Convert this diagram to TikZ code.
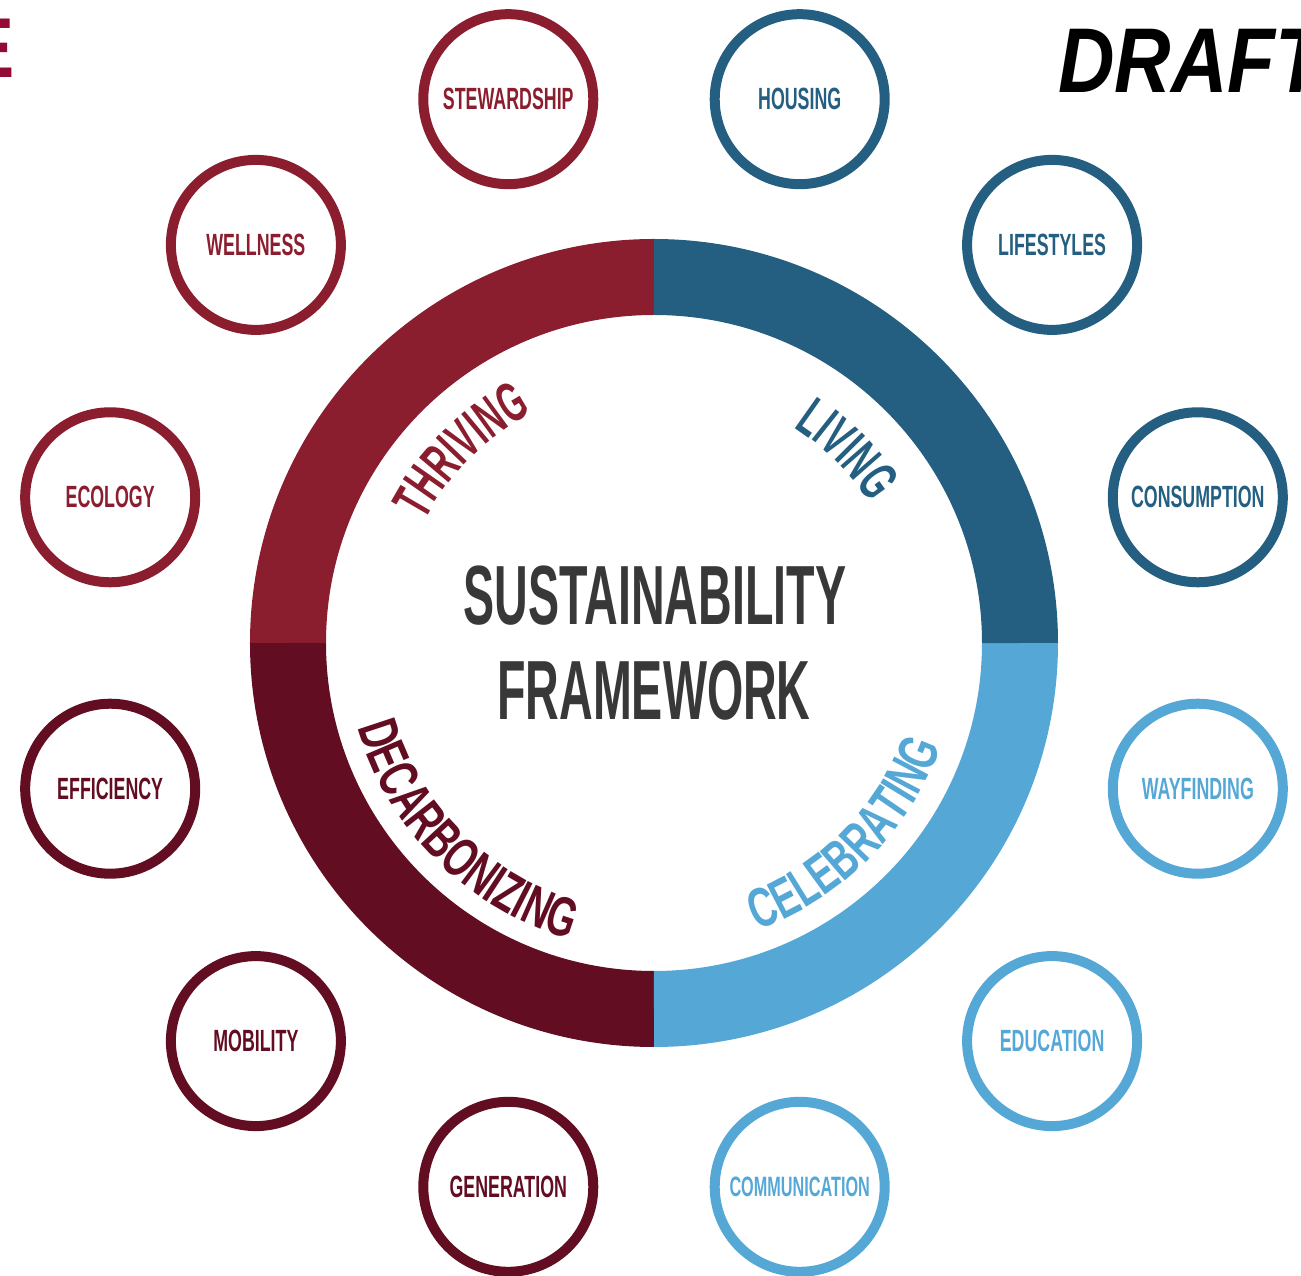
\documentclass[tikz,border=0pt]{standalone}
\usepackage{fontspec}
\usetikzlibrary{decorations.text}
\newfontfamily\condfont[FakeStretch=0.58]{Liberation Sans}
\newfontfamily\widecondfont[FakeStretch=0.665]{Liberation Sans}
\newfontfamily\centfont[FakeStretch=0.555]{Liberation Sans}
\newfontfamily\draftfont[FakeStretch=0.85]{Liberation Sans}
\newfontfamily\plainsans{Liberation Sans}
\newcommand\ringfont{\condfont\bfseries\fontsize{55.9}{56}\selectfont}
\newcommand\ringwidefont{\widecondfont\bfseries\fontsize{55.9}{56}\selectfont}
\definecolor{thrive}{HTML}{8B1E2E}
\definecolor{decarb}{HTML}{620D21}
\definecolor{living}{HTML}{245F82}
\definecolor{celeb}{HTML}{55A8D6}
\definecolor{textgray}{HTML}{383838}
\definecolor{emark}{HTML}{930B35}
\tikzset{
  smallring/.style={circle, draw=#1, line width=10pt, minimum size=170pt, inner sep=0pt,
    text=#1, font=\condfont\bfseries\fontsize{30.7}{32}\selectfont},
  quarter/.style={line width=76pt, draw=#1},
  centertext/.style={font=\centfont\bfseries\fontsize{84}{84}\selectfont, text=textgray,
    anchor=base, inner sep=0pt},
}
\begin{document}
\begin{tikzpicture}[x=1pt,y=1pt]
\useasboundingbox (-654,-633) rectangle (647,643);
\coordinate (c) at (0,0);
% ring
\draw[quarter=thrive] (90:366) arc[start angle=90,end angle=180,radius=366];
\draw[quarter=decarb] (180:366) arc[start angle=180,end angle=270,radius=366];
\draw[quarter=celeb] (270:366) arc[start angle=270,end angle=360,radius=366];
\draw[quarter=living] (0:366) arc[start angle=0,end angle=90,radius=366];
% ring labels
\path[decorate, decoration={text along path, text={|\ringfont|THRIVING}, text align=center, text color=thrive}]
  (180:260) arc[start angle=180,end angle=90,radius=260];
\path[decorate, decoration={text along path, text={|\ringfont|LIVING}, text align=center, text color=living}]
  (90:257) arc[start angle=90,end angle=0,radius=257];
\path[decorate, decoration={text along path, text={|\ringwidefont|DECARBONIZING}, text align=center, text color=decarb}]
  (180:308) arc[start angle=180,end angle=270,radius=308];
\path[decorate, decoration={text along path, text={|\ringwidefont|CELEBRATING}, text align=center, text color=celeb}]
  (270:305) arc[start angle=270,end angle=360,radius=305];
% center
\node[centertext] (t1) at (1,18) {SUSTAINABILITY};
\node[centertext] (t2) at (0,-77) {FRAMEWORK};
% small circles
\node[smallring=thrive] (stew) at (105:563) {STEWARDSHIP};
\node[smallring=thrive] (well) at (135:563) {WELLNESS};
\node[smallring=thrive] (eco) at (165:563) {ECOLOGY};
\node[smallring=decarb] (eff) at (195:563) {EFFICIENCY};
\node[smallring=decarb] (mob) at (225:563) {MOBILITY};
\node[smallring=decarb] (gen) at (255:563) {GENERATION};
\node[smallring=celeb] (comm) at (285:563) {\fontsize{28}{29}\selectfont COMMUNICATION};
\node[smallring=celeb] (edu) at (315:563) {EDUCATION};
\node[smallring=celeb] (way) at (345:563) {WAYFINDING};
\node[smallring=living] (cons) at (15:563) {CONSUMPTION};
\node[smallring=living] (life) at (45:563) {LIFESTYLES};
\node[smallring=living] (hous) at (75:563) {HOUSING};
% corner texts
\node[font=\draftfont\bfseries\itshape\fontsize{92}{92}\selectfont, anchor=base west, inner sep=0pt] (draft) at (404,550) {DRAFT};
\node[font=\plainsans\bfseries\fontsize{85}{85}\selectfont, text=emark, anchor=base east, inner sep=0pt] (e) at (-639,565) {E};
\end{tikzpicture}
\end{document}
